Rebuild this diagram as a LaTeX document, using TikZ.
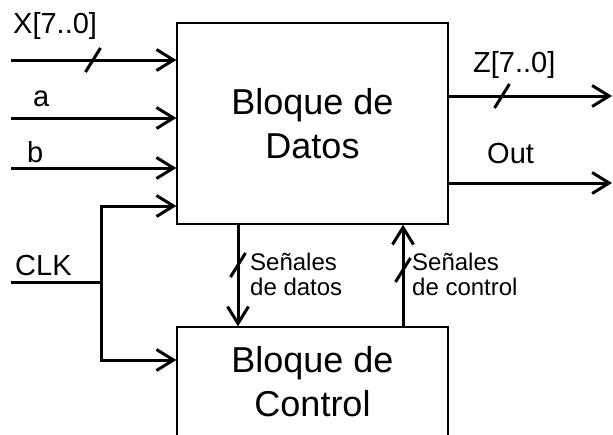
\documentclass[tikz,border=0pt]{standalone}
\usepackage{fontspec}
\setmainfont{Liberation Sans}
\usetikzlibrary{arrows.meta,calc}
\begin{document}
\begin{tikzpicture}[x=1pt,y=-1pt,
  blockbox/.style={draw, line width=1.3pt, minimum width=271pt, align=center,
    font=\fontsize{36}{44}\selectfont, inner sep=0pt},
  sig/.style={line width=3pt, -{Straight Barb[length=17pt,width=21pt]}},
  wire/.style={line width=3pt},
  buslabel/.style={font=\fontsize{29}{30}\selectfont, anchor=base west, inner sep=0pt},
  sublabel/.style={font=\fontsize{24}{25}\selectfont, align=left, anchor=north west, inner sep=0pt},
  busslash/.pic={\draw[line width=3pt] (-7.5,12) -- (7.5,-12);}]
\useasboundingbox (0,0) rectangle (613,434);
\clip (0,0) rectangle (613,434);

% the two blocks
\node[blockbox, minimum height=201pt] (datos) at (312.5,123.5) {Bloque de\\Datos};
\node[blockbox, minimum height=110pt] (control) at (312.5,382) {Bloque de\\Control};

% data inputs
\coordinate (xin) at (11,60);
\coordinate (ain) at (11,118);
\coordinate (bin) at (11,168);
\draw[sig] (xin) -- (xin -| datos.west);
\draw[sig] (ain) -- (ain -| datos.west);
\draw[sig] (bin) -- (bin -| datos.west);
\pic at (93,60) {busslash};
\node[buslabel] (xlab) at (13,33) {X[7..0]};
\node[buslabel] (alab) at (33,106) {a};
\node[buslabel] (blab) at (27,162) {b};

% clock distribution
\coordinate (clk) at (11,282);
\coordinate (fork) at (101,282);
\coordinate (ckd) at (0,206);
\coordinate (ckc) at (0,360);
\draw[wire] (clk) -- (fork);
\draw[sig] (fork) |- (datos.west |- ckd);
\draw[sig] (fork) |- (control.west |- ckc);
\node[buslabel] (clklab) at (15,275) {CLK};

% outputs
\coordinate (zout) at (612,96);
\coordinate (oout) at (612,183);
\draw[sig] (datos.east |- zout) -- (zout);
\draw[sig] (datos.east |- oout) -- (oout);
\pic at (502,96) {busslash};
\node[buslabel] (zlab) at (473,72) {Z[7..0]};
\node[buslabel] (outlab) at (487,163) {Out};

% signals between the blocks
\coordinate (dcol) at (238,0);
\coordinate (ccol) at (403,0);
\draw[sig] (datos.south -| dcol) -- (control.north -| dcol);
\draw[sig] (control.north -| ccol) -- (datos.south -| ccol);
\pic at (238,265) {busslash};
\pic at (403,270) {busslash};
\node[sublabel] (dsig) at (250,252.5) {Señales\\de datos};
\node[sublabel] (csig) at (412,252.5) {Señales\\de control};
\end{tikzpicture}
\end{document}
